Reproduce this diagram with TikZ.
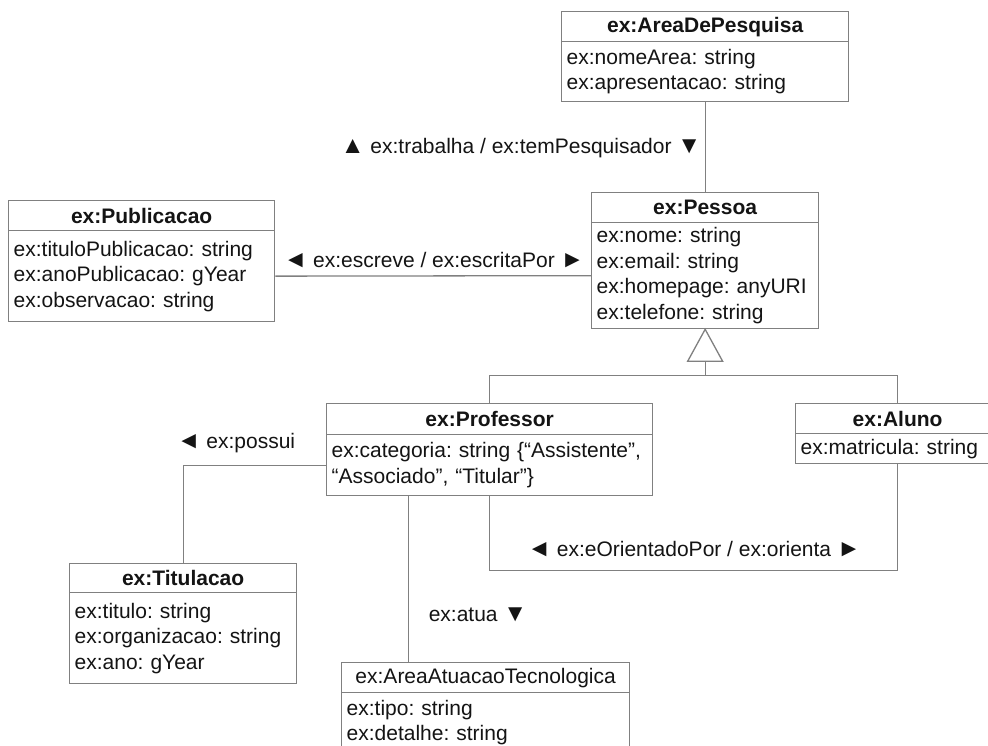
\documentclass[tikz,border=0pt]{standalone}
\usepackage{fontspec}
\setmainfont{Liberation Sans}
\usetikzlibrary{calc}
\frenchspacing
\definecolor{linecol}{RGB}{128,128,128}
\definecolor{txtcol}{RGB}{20,20,20}
\newcommand\trig[1]{{\fontsize{24}{25.5}\selectfont #1}}
\tikzset{
  fnt/.style={font=\fontsize{21}{25.5}\selectfont\frenchspacing, text=txtcol},
  boxtitle/.style={fnt, draw=linecol, line width=1.3pt, inner xsep=5pt, inner ysep=0pt,
    anchor=north west, align=center, minimum height=30pt},
  boxattr/.style={fnt, draw=linecol, line width=1.3pt, inner xsep=5pt, inner ysep=0pt,
    anchor=north west, align=left},
  conn/.style={draw=linecol, line width=1.3pt},
  lbl/.style={fnt, inner sep=0pt}
}
\begin{document}
\begin{tikzpicture}[x=1pt,y=-1pt]
\useasboundingbox[fill=white] (0,0) rectangle (988,746);

% ex:AreaDePesquisa
\node[boxtitle, text width=277pt, minimum width=287pt] (adpT) at (561,11) {\bfseries ex:AreaDePesquisa};
\node[boxattr, text width=277pt, minimum width=287pt, minimum height=60pt] (adpA) at (561,41)
  {ex:nomeArea: string\\ex:apresentacao: string};

% ex:Pessoa
\node[boxtitle, text width=217pt, minimum width=227pt] (pesT) at (591,192) {\bfseries ex:Pessoa};
\node[boxattr, text width=217pt, minimum width=227pt, minimum height=106pt] (pesA) at (591,222)
  {ex:nome: string\\ex:email: string\\ex:homepage: anyURI\\ex:telefone: string};

% ex:Publicacao
\node[boxtitle, text width=256pt, minimum width=266pt] (pubT) at (8,200) {\bfseries ex:Publicacao};
\node[boxattr, text width=256pt, minimum width=266pt, minimum height=91pt] (pubA) at (8,230)
  {ex:tituloPublicacao: string\\ex:anoPublicacao: gYear\\ex:observacao: string};

% ex:Professor
\node[boxtitle, text width=316pt, minimum width=326pt, minimum height=31pt] (proT) at (326,403) {\bfseries ex:Professor};
\node[boxattr, text width=316pt, minimum width=326pt, minimum height=61pt] (proA) at (326,434)
  {ex:categoria: string \{“Assistente”,\\“Associado”, “Titular”\}};

% ex:Aluno
\node[boxtitle, text width=194pt, minimum width=204pt] (aluT) at (795,403) {\bfseries ex:Aluno};
\node[boxattr, text width=194pt, minimum width=204pt, minimum height=30pt] (aluA) at (795,433)
  {ex:matricula: string};

% ex:Titulacao
\node[boxtitle, text width=217pt, minimum width=227pt, minimum height=29pt] (titT) at (69,563) {\bfseries ex:Titulacao};
\node[boxattr, text width=217pt, minimum width=227pt, minimum height=91pt] (titA) at (69,592)
  {ex:titulo: string\\ex:organizacao: string\\ex:ano: gYear};

% ex:AreaAtuacaoTecnologica
\node[boxtitle, text width=278pt, minimum width=288pt] (aatT) at (341,662) {ex:AreaAtuacaoTecnologica};
\node[boxattr, text width=278pt, minimum width=288pt, minimum height=60pt] (aatA) at (341,692)
  {ex:tipo: string\\ex:detalhe: string};

% connectors
\draw[conn] (adpA.south) -- (pesT.north);
\node[lbl] (lblTrab) at (521,148) {\trig{▲} ex:trabalha / ex:temPesquisador \trig{▼}};

\draw[conn] (pubA.east) -- (pesA.west);
\node[lbl] (lblEsc) at (434,260) {\trig{◄} ex:escreve / ex:escritaPor \trig{►}};

% generalization
\coordinate (triB) at ($(pesA.south)+(0,32)$);
\coordinate (bus) at ($(pesA.south)+(0,46)$);
\draw[conn, fill=white] (pesA.south) -- ($(triB)+(-17.5,0)$) -- ($(triB)+(17.5,0)$) -- cycle;
\draw[conn] (triB) -- (bus);
\draw[conn] (proT.north) |- (bus) -| (aluT.north);

% possui
\draw[conn] (proA.west) -| (titT.north);
\node[lbl] (lblPos) at (236,443) {\trig{◄} ex:possui};

% atua
\coordinate (atuaTop) at ($(proA.south)+(-81,0)$);
\draw[conn] (atuaTop) -- (atuaTop |- aatT.north);
\node[lbl] (lblAtua) at (478,615) {ex:atua \trig{▼}};

% orienta
\draw[conn] (proA.south) -- ++(0,74) -| (aluA.south);
\node[lbl] (lblOri) at (694,549) {\trig{◄} ex:eOrientadoPor / ex:orienta \trig{►}};
\end{tikzpicture}
\end{document}
